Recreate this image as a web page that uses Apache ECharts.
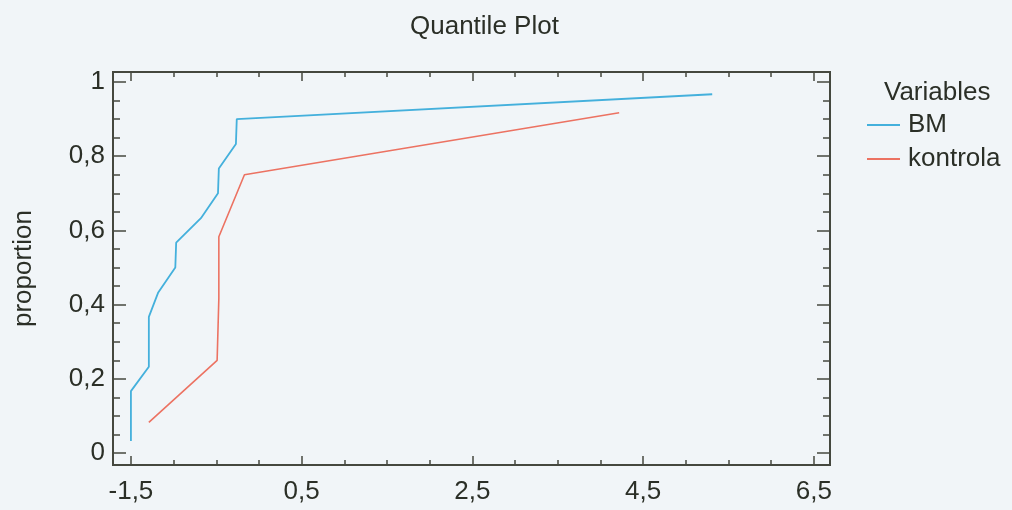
<!DOCTYPE html>
<html>
<head>
<meta charset="utf-8">
<script src="https://cdn.jsdelivr.net/npm/echarts@6/dist/echarts.min.js"></script>
<style>
  html, body { margin: 0; padding: 0; background: #f1f5f8; }
  #chart { width: 1012px; height: 510px; }
</style>
</head>
<body>
<div id="chart"></div>
<script>
// Valeurs
const bmX = [-1.50, -1.50, -1.50, -1.29, -1.29, -1.29, -1.18, -0.98, -0.97, -0.68, -0.48, -0.47, -0.27, -0.26, 5.31];
const bmY = [0.033, 0.100, 0.167, 0.233, 0.300, 0.367, 0.433, 0.500, 0.567, 0.633, 0.700, 0.767, 0.833, 0.900, 0.967];
const kontrolaX = [-1.29, -0.49, -0.47, -0.47, -0.17, 4.22];
const kontrolaY = [0.083, 0.250, 0.417, 0.583, 0.750, 0.917];
const seriesNames = ['BM', 'kontrola'];
const xTickLabels = [-1.5, 0.5, 2.5, 4.5, 6.5];
const yTickLabels = [0, 0.2, 0.4, 0.6, 0.8, 1];

const textColor = '#2b2f27';
const frameColor = '#45483f';
const font = 'Liberation Sans';

function pairs(xs, ys) {
    return xs.map((x, i) => [x, ys[i]]);
}

// ticks secondaires : 4 subdivisions entre deux graduations
function minorTicks(major) {
    const step = (major[1] - major[0]) / 4;
    const out = [];
    for (let i = 0; i < major.length - 1; i++) {
        for (let k = 1; k < 4; k++) out.push(+(major[i] + k * step).toFixed(4));
    }
    return out;
}

const xMin = -1.71, xMax = 6.69;
const yMin = -0.032, yMax = 1.027;
const comma = v => String(v).replace('.', ',');

function tickAxis(position, min, max, values, len, withLabels) {
    return {
        type: 'value',
        position: position,
        min: min,
        max: max,
        splitLine: { show: false },
        axisLine: { show: false, onZero: false },
        axisTick: {
            show: true,
            inside: true,
            length: len,
            customValues: values,
            lineStyle: { color: frameColor, width: 1.5 }
        },
        axisLabel: withLabels ? {
            show: true,
            customValues: values,
            formatter: comma,
            color: textColor,
            fontFamily: font,
            fontSize: 26,
            margin: 8
        } : { show: false }
    };
}

const chart = echarts.init(document.getElementById('chart'));

const xMinor = minorTicks(xTickLabels);
const yMinor = minorTicks(yTickLabels);

const xAxes = [
    tickAxis('bottom', xMin, xMax, xTickLabels, 9, true),
    tickAxis('bottom', xMin, xMax, xMinor, 5, false),
    tickAxis('top', xMin, xMax, xTickLabels, 9, false),
    tickAxis('top', xMin, xMax, xMinor, 5, false)
];
const yAxes = [
    tickAxis('left', yMin, yMax, yTickLabels, 13, true),
    tickAxis('left', yMin, yMax, yMinor, 7, false),
    tickAxis('right', yMin, yMax, yTickLabels, 13, false),
    tickAxis('right', yMin, yMax, yMinor, 7, false)
];
xAxes[0].axisLabel.margin = 14;
yAxes[0].name = 'proportion';
yAxes[0].nameLocation = 'middle';
yAxes[0].nameGap = 76;
yAxes[0].nameTextStyle = { color: textColor, fontFamily: font, fontSize: 26 };

const option = {
    backgroundColor: '#f1f5f8',
    animation: false,
    title: [
        {
            text: 'Quantile Plot',
            left: 405,
            top: 9,
            textStyle: { color: textColor, fontFamily: font, fontSize: 26, fontWeight: 'normal' }
        },
        {
            text: 'Variables',
            left: 879,
            top: 75,
            textStyle: { color: textColor, fontFamily: font, fontSize: 26, fontWeight: 'normal' }
        }
    ],
    legend: {
        data: seriesNames,
        orient: 'vertical',
        left: 862,
        top: 107,
        icon: 'rect',
        itemWidth: 33,
        itemHeight: 2,
        itemGap: 8,
        textStyle: { color: textColor, fontFamily: font, fontSize: 26, padding: [0, 0, 0, 3] }
    },
    grid: {
        show: true,
        left: 113,
        right: 182,
        top: 72,
        bottom: 45,
        backgroundColor: '#f1f5f8',
        borderColor: frameColor,
        borderWidth: 2
    },
    xAxis: xAxes,
    yAxis: yAxes,
    series: [
        {
            name: seriesNames[0],
            type: 'line',
            data: pairs(bmX, bmY),
            showSymbol: false,
            color: '#44b0dc',
            lineStyle: { width: 1.8 }
        },
        {
            name: seriesNames[1],
            type: 'line',
            data: pairs(kontrolaX, kontrolaY),
            showSymbol: false,
            color: '#ec7262',
            lineStyle: { width: 1.6 }
        }
    ]
};

chart.setOption(option);
</script>
</body>
</html>
